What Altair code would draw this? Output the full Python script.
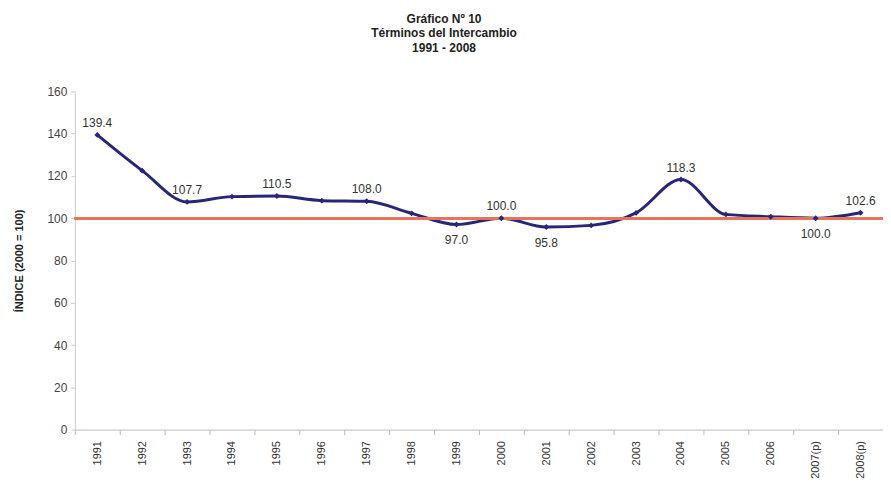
import altair as alt
import pandas as pd

years = ["1991", "1992", "1993", "1994", "1995", "1996", "1997", "1998", "1999",
         "2000", "2001", "2002", "2003", "2004", "2005", "2006", "2007(p)", "2008(p)"]
values = [139.4, 122.5, 107.7, 110.2, 110.5, 108.3, 108.0, 102.3, 97.0,
          100.0, 95.8, 96.6, 102.5, 118.3, 101.8, 100.7, 100.0, 102.6]
label_above = ["1991", "1993", "1995", "1997", "2000", "2004", "2008(p)"]
label_below = ["1999", "2001", "2007(p)"]

df = pd.DataFrame({"year": years, "value": values})
df["lbl"] = df["value"].map(lambda v: f"{v:.1f}")
above = df[df["year"].isin(label_above)]
below = df[df["year"].isin(label_below)]

FONT = "Liberation Sans"
NAVY = "#27277a"

x_enc = alt.X("year:N", sort=years, bandPosition=0.5,
              scale=alt.Scale(type="band", paddingInner=0, paddingOuter=0),
              axis=alt.Axis(title=None, labelAngle=-90, labelFontSize=11, labelColor="#333",
                            labelFont=FONT, tickBand="extent", tickSize=5, tickColor="#bbb",
                            domainColor="#bbb", labelPadding=6, grid=False,
                            labelAlign="right", labelBaseline="middle"))
y_enc = alt.Y("value:Q", scale=alt.Scale(domain=[0, 160]),
              axis=alt.Axis(values=list(range(0, 161, 20)), title="ÍNDICE (2000 = 100)",
                            titleFont=FONT, titleFontSize=11, titleFontWeight="bold",
                            titleColor="#222", titlePadding=22,
                            labelFontSize=12, labelColor="#444", labelFont=FONT,
                            tickSize=4, tickColor="#ccc", domainColor="#ccc", grid=False,
                            labelPadding=4))

base = alt.Chart(df)
line = base.mark_line(color=NAVY, strokeWidth=3, interpolate="monotone").encode(x=x_enc, y=y_enc)
rule = alt.Chart(df).mark_rule(color="#e8735a", strokeWidth=2).encode(y=alt.datum(100))
pts = base.mark_point(shape="diamond", filled=True, color=NAVY, size=35, opacity=1).encode(x=x_enc, y=y_enc)
t_above = alt.Chart(above).mark_text(dy=-12, fontSize=12, font=FONT, color="#333").encode(
    x=x_enc, y=y_enc, text="lbl:N")
t_below = alt.Chart(below).mark_text(dy=16, fontSize=12, font=FONT, color="#333").encode(
    x=x_enc, y=y_enc, text="lbl:N")

chart = alt.layer(line, rule, pts, t_above, t_below).properties(
    width=810, height=339,
    autosize=alt.AutoSizeParams(type="none"),
    padding={"left": 67, "top": 83, "right": 0, "bottom": 55},
    title=alt.TitleParams(text=["Gráfico  Nº 10", "Términos del Intercambio", "1991 - 2008"],
                          font=FONT, fontSize=12, fontWeight="bold", color="#222",
                          lineHeight=15, anchor="middle", dx=-35, offset=30),
).configure_view(stroke=None)

chart.save("out.html", embed_options={"renderer": "svg", "actions": False})
